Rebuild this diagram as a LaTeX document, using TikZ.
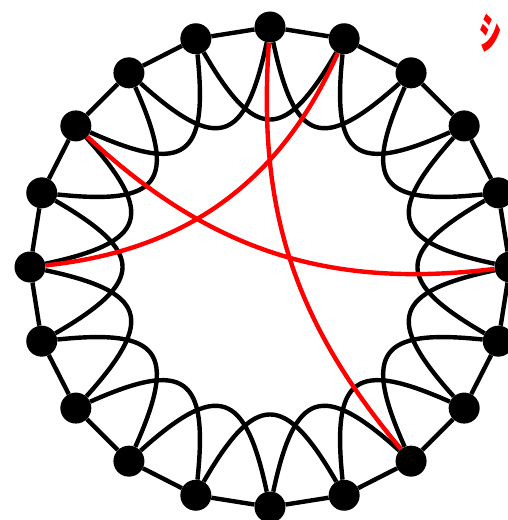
\documentclass[tikz,border=0pt]{standalone}
\usepackage{fontspec}
\newfontfamily\jpfont{Noto Sans CJK JP}
\usetikzlibrary{positioning}

\begin{document}
\begin{tikzpicture}[
    x=1pt, y=1pt,
    vertex/.style={circle, fill=black, draw=none, minimum size=31pt, inner sep=0pt},
    ring/.style={line width=4.4pt, draw=black},
    chord/.style={line width=4.4pt, draw=red},
    mark_label/.style={text=red, font=\jpfont\bfseries\fontsize{44}{44}\selectfont, inner sep=0pt}
  ]
  \useasboundingbox (-270,-253) rectangle (238,267);

  % vertices on the circle
  \foreach \i in {0,...,19}
    \node[vertex] (v\i) at ({90-18*\i}:240) {};

  % outer cycle and loops to the second neighbour
  \foreach \i in {0,...,19} {
    \pgfmathtruncatemacro{\j}{mod(\i+1,20)}
    \pgfmathtruncatemacro{\k}{mod(\i+2,20)}
    \pgfmathsetmacro{\a}{90-18*\i}
    \draw[ring] (v\i) -- (v\j);
    \draw[ring] (v\i) to[out=\a+192, in=\a+132, looseness=2.0] (v\k);
  }

  % red chords
  \draw[chord] (v0) to[bend right=22] (v8);
  \draw[chord] (v1) to[bend left=30] (v15);
  \draw[chord] (v17) to[bend right=25] (v5);

  \node[mark_label] (shi) at (220,234) {ｼ};
\end{tikzpicture}
\end{document}
